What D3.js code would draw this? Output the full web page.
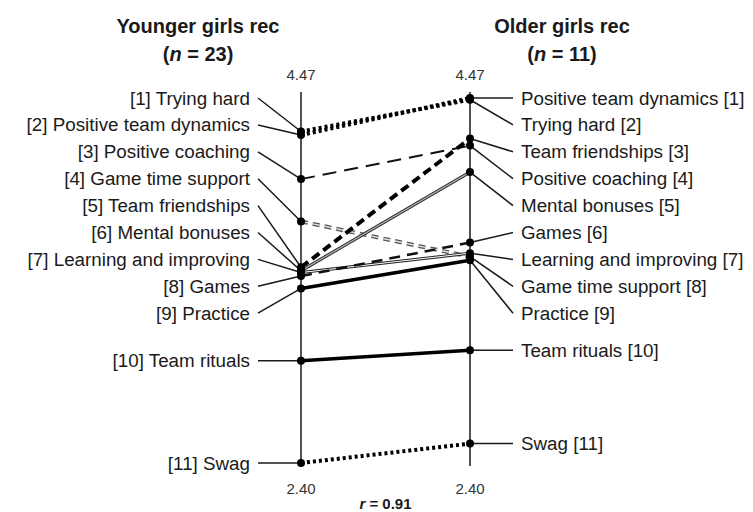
<!DOCTYPE html>
<html>
<head>
<meta charset="utf-8"/>
<title>Younger vs older girls rec</title>
<script src="https://d3js.org/d3.v7.min.js"></script>
<style>
    body { margin: 0; background: #fff; }
    text { font-family: "Liberation Sans", Arial, sans-serif; fill: #1a1a1a; }
    .title { font-size: 20px; font-weight: bold; }
    .lab { font-size: 18.8px; }
    .tick { font-size: 15px; fill: #333; }
    .leader, .axis-line { stroke: #1a1a1a; stroke-width: 1.5px; fill: none; }
</style>
</head>
<body>
<div id="chart"></div>
<script>
    // data: ranks follow each group's mean, highest first
    var categories = ["Trying hard", "Positive team dynamics", "Positive coaching",
        "Game time support", "Team friendships", "Mental bonuses",
        "Learning and improving", "Games", "Practice", "Team rituals", "Swag"];
    var younger = [4.28, 4.26, 4.01, 3.77, 3.51, 3.49, 3.48, 3.46, 3.39, 2.98, 2.40];
    var older   = [4.46, 4.47, 4.20, 3.57, 4.24, 4.05, 3.59, 3.65, 3.55, 3.04, 2.51];
    var tickValues = [2.40, 4.47];
    var groups = [["Younger girls rec", "23"], ["Older girls rec", "11"]];
    var rValue = "0.91";

    // line look per category
    var lineStyle = {
        "Trying hard":            [{c: "#000", w: 4, d: "3,3"}],
        "Positive team dynamics": [{c: "#000", w: 4, d: "3,3"}],
        "Positive coaching":      [{c: "#111", w: 2, d: "14,8"}],
        "Game time support":      [{c: "#555", w: 4, d: "7,5"}, {c: "#ddd", w: 1.5, d: "7,5"}],
        "Team friendships":       [{c: "#000", w: 4, d: "9,5"}],
        "Mental bonuses":         [{c: "#222", w: 3.2}, {c: "#aaa", w: 1.4}],
        "Learning and improving": [{c: "#222", w: 3}, {c: "#fff", w: 1}],
        "Games":                  [{c: "#111", w: 2.5, d: "11,7"}],
        "Practice":               [{c: "#000", w: 3.5}],
        "Team rituals":           [{c: "#000", w: 3.5}],
        "Swag":                   [{c: "#000", w: 4, d: "3,3"}]
    };

    var width = 753, height = 512;
    var xL = 301, xR = 470;
    var gap = 26.9, stacked = 9;

    var svg = d3.select("#chart").append("svg")
        .attr("width", width).attr("height", height);

    var y = d3.scaleLinear()
        .domain(d3.extent(tickValues))
        .range([463, 98]);
    var fmt = d3.format(".2f");

    var rows = categories.map(function(name, i) {
        return {name: name, a: younger[i], b: older[i]};
    });

    // titles
    [xL - 103, xR + 92].forEach(function(cx, i) {
        svg.append("text").attr("class", "title")
            .attr("x", cx).attr("y", 33).attr("text-anchor", "middle")
            .text(groups[i][0]);
        var t = svg.append("text").attr("class", "title")
            .attr("x", cx).attr("y", 61).attr("text-anchor", "middle");
        t.append("tspan").text("(");
        t.append("tspan").style("font-style", "italic").text("n");
        t.append("tspan").text(" = " + groups[i][1] + ")");
    });

    // axes
    [xL, xR].forEach(function(x, i) {
        svg.append("line").attr("class", "axis-line")
            .attr("x1", x).attr("x2", x)
            .attr("y1", y(tickValues[1]) - 6)
            .attr("y2", y(tickValues[0]) + (i ? 3 : 0));
        svg.append("text").attr("class", "tick")
            .attr("x", x).attr("y", y(tickValues[1]) - 18).attr("text-anchor", "middle")
            .text(fmt(tickValues[1]));
        svg.append("text").attr("class", "tick")
            .attr("x", x).attr("y", y(tickValues[0]) + 31).attr("text-anchor", "middle")
            .text(fmt(tickValues[0]));
    });

    // slope lines
    var lines = svg.append("g");
    rows.forEach(function(d) {
        lineStyle[d.name].forEach(function(s) {
            lines.append("line")
                .attr("x1", xL).attr("y1", y(d.a))
                .attr("x2", xR).attr("y2", y(d.b))
                .attr("stroke", s.c)
                .attr("stroke-width", s.w)
                .attr("stroke-dasharray", s.d || null);
        });
    });

    // labels + leaders, one side at a time
    function side(key, xAxis, dir) {
        var sorted = rows.slice().sort(function(p, q) { return q[key] - p[key]; });
        var top = y(tickValues[1]);
        sorted.forEach(function(d, i) {
            var dy = y(d[key]);
            var ly = i < stacked ? top + i * gap : dy;
            var x2 = xAxis + dir * 43;
            svg.append("line").attr("class", "leader")
                .attr("x1", xAxis).attr("y1", dy)
                .attr("x2", x2).attr("y2", ly);
            var label = dir < 0 ? "[" + (i + 1) + "] " + d.name : d.name + " [" + (i + 1) + "]";
            svg.append("text").attr("class", "lab")
                .attr("x", x2 + dir * 8).attr("y", ly)
                .attr("dy", "0.35em")
                .attr("text-anchor", dir < 0 ? "end" : "start")
                .text(label);
        });
        svg.selectAll(null).data(rows).enter().append("circle")
            .attr("cx", xAxis).attr("cy", function(d) { return y(d[key]); })
            .attr("r", 4).attr("fill", "#000");
    }
    side("a", xL, -1);
    side("b", xR, 1);

    // correlation
    var r = svg.append("text").attr("class", "tick")
        .attr("x", (xL + xR) / 2).attr("y", 509).attr("text-anchor", "middle")
        .style("font-weight", "bold").style("fill", "#1a1a1a");
    r.append("tspan").style("font-style", "italic").text("r");
    r.append("tspan").text(" = " + rValue);
</script>
</body>
</html>
